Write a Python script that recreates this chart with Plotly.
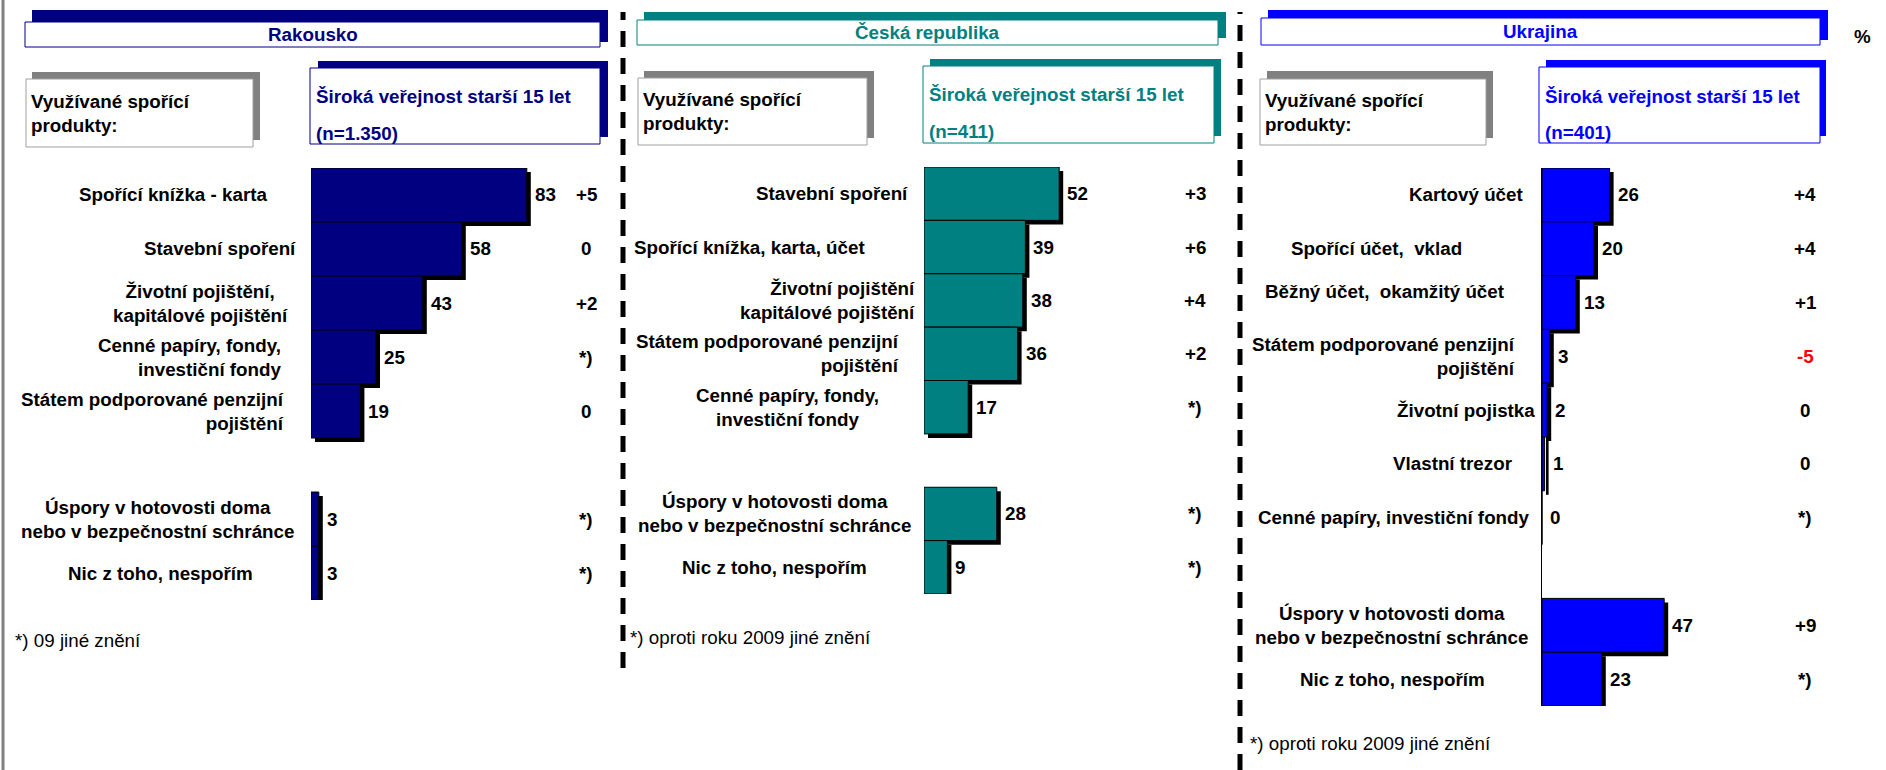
import plotly.graph_objects as go

W, H = 1886, 770

# ---------------- data ----------------
rak_labels = ["Spořící knížka - karta", "Stavební spoření",
              "Životní pojištění,<br>kapitálové pojištění",
              "Cenné papíry, fondy,<br>investiční fondy",
              "Státem podporované penzijní<br>pojištění", None,
              "Úspory v hotovosti doma<br>nebo v bezpečnostní schránce",
              "Nic z toho, nespořím"]
rak_values = [83, 58, 43, 25, 19, None, 3, 3]
rak_changes = ["+5", "0", "+2", "*)", "0", None, "*)", "*)"]

cz_labels = ["Stavební spoření", "Spořící knížka, karta, účet",
             "Životní pojištění<br>kapitálové pojištění",
             "Státem podporované penzijní<br>pojištění",
             "Cenné papíry, fondy,<br>investiční fondy", None,
             "Úspory v hotovosti doma<br>nebo v bezpečnostní schránce",
             "Nic z toho, nespořím"]
cz_values = [52, 39, 38, 36, 17, None, 28, 9]
cz_changes = ["+3", "+6", "+4", "+2", "*)", None, "*)", "*)"]

ua_labels = ["Kartový účet", "Spořící účet,  vklad", "Běžný účet,  okamžitý účet",
             "Státem podporované penzijní<br>pojištění", "Životní pojistka",
             "Vlastní trezor", "Cenné papíry, investiční fondy", None,
             "Úspory v hotovosti doma<br>nebo v bezpečnostní schránce",
             "Nic z toho, nespořím"]
ua_values = [26, 20, 13, 3, 2, 1, 0, None, 47, 23]
ua_changes = ["+4", "+4", "+1", "-5", "0", "0", "*)", None, "+9", "*)"]

panel_titles = ["Rakousko", "Česká republika", "Ukrajina"]
sample_sizes = ["(n=1.350)", "(n=411)", "(n=401)"]
footnotes = ["*) 09 jiné znění", "*) oproti roku 2009 jiné znění", "*) oproti roku 2009 jiné znění"]
group_title = "Široká veřejnost starší 15 let"
question_title = "Využívané spořící<br>produkty:"

# ---------------- styles / layout ----------------
FONT = "Arial, Liberation Sans, sans-serif"
FS = 18.8
PXU = 2.6          # pixels per percentage point
SHADOW = 4         # px shadow offset

def X(px):
    return px / W

def Y(py):
    return 1 - py / H

panels = [
    dict(title=panel_titles[0], color="#000080", labels=rak_labels, values=rak_values,
         changes=rak_changes, n=sample_sizes[0], foot=footnotes[0],
         axis_x=311, top=168, bottom=600, change_x=586, showline=False,
         gaps=[42, 13, 21, 27, 25, None, 15, 56],
         aligns=["right", "right", "center", "right", "right", None, "center", "right"],
         dys=[0] * 8,
         header=(25, 22, 600, 47), hshadow=(32, 10, 608, 42),
         qbox=(26, 79, 253, 147), qshadow=(32, 72, 260, 140),
         sbox=(310, 68, 600, 144), sshadow=(318, 61, 608, 137),
         foot_xy=(13, 640)),
    dict(title=panel_titles[1], color="#008080", labels=cz_labels, values=cz_values,
         changes=cz_changes, n=sample_sizes[1], foot=footnotes[1],
         axis_x=924, top=167, bottom=594, change_x=1195, showline=False,
         gaps=[14, 57, 7, 23, 43, None, 11, 55],
         aligns=["right", "right", "right", "right", "center", None, "center", "right"],
         dys=[0] * 8,
         header=(637, 20, 1218, 45), hshadow=(644, 12, 1226, 38),
         qbox=(638, 78, 867, 145), qshadow=(644, 71, 874, 138),
         sbox=(923, 66, 1214, 143), sshadow=(930, 59, 1221, 136),
         foot_xy=(628, 637)),
    dict(title=panel_titles[2], color="#0000FF", labels=ua_labels, values=ua_values,
         changes=ua_changes, n=sample_sizes[2], foot=footnotes[2],
         axis_x=1542, top=168, bottom=706, change_x=1805, showline=True,
         gaps=[16, 78, 35, 25, 5, 27, 10, None, 12, 55],
         aligns=["right", "right", "right", "right", "right", "right", "right", None, "center", "right"],
         dys=[0, 0, 11, 0, 0, 0, 0, 0, 0, 0],
         header=(1261, 18, 1820, 45), hshadow=(1268, 10, 1828, 40),
         qbox=(1260, 79, 1486, 145), qshadow=(1267, 71, 1493, 138),
         sbox=(1539, 67, 1820, 143), sshadow=(1546, 60, 1826, 136),
         foot_xy=(1248, 743)),
]

fig = go.Figure()
shapes = []
annotations = []

def rect(box, fill, line_color=None, line_width=0):
    x0, y0, x1, y1 = box
    return dict(type="rect", xref="paper", yref="paper",
                x0=X(x0), x1=X(x1), y0=Y(y1), y1=Y(y0),
                fillcolor=fill,
                line=dict(color=line_color or fill, width=line_width))

AXIS_WIDTH_PX = 260

for i, p in enumerate(panels):
    suffix = "" if i == 0 else str(i + 1)
    xa, ya = "x" + suffix, "y" + suffix
    n_slots = len(p["values"])
    slot_px = (p["bottom"] - p["top"]) / n_slots
    slots = [k for k, v in enumerate(p["values"]) if v is not None]
    vals = [p["values"][k] for k in slots]

    # shadow bars
    fig.add_trace(go.Bar(
        y=slots, x=vals, base=SHADOW / PXU, orientation="h",
        width=1, offset=-0.5 + SHADOW / slot_px,
        marker=dict(color="#000000", line=dict(width=0)),
        xaxis=xa, yaxis=ya, hoverinfo="skip"))
    # main bars
    fig.add_trace(go.Bar(
        y=slots, x=vals, orientation="h", width=1, offset=-0.5,
        marker=dict(color=p["color"], line=dict(color="#000000", width=1)),
        xaxis=xa, yaxis=ya, hoverinfo="skip"))

    dom_x = [X(p["axis_x"]), X(p["axis_x"] + AXIS_WIDTH_PX)]
    dom_y = [Y(p["bottom"]), Y(p["top"])]
    fig.update_layout(**{
        ("xaxis" + suffix): dict(domain=dom_x, range=[0, AXIS_WIDTH_PX / PXU],
                                 visible=False, fixedrange=True, anchor=ya),
        ("yaxis" + suffix): dict(domain=dom_y, range=[n_slots - 0.5, -0.5],
                                 showgrid=False, zeroline=False, showticklabels=False,
                                 ticks="", showline=p["showline"], linecolor="#000000",
                                 linewidth=1, anchor=xa, fixedrange=True),
    })

    # labels, values, changes
    for k in slots:
        v = p["values"][k]
        annotations.append(dict(
            x=v, y=k, xref=xa, yref=ya, text=str(v), showarrow=False,
            xanchor="left", yanchor="middle", xshift=SHADOW + 2,
            font=dict(family=FONT, size=FS, color="#000000", weight="bold")))
        annotations.append(dict(
            x=X(p["axis_x"] - p["gaps"][k]), y=k, xref="paper", yref=ya,
            text=p["labels"][k], showarrow=False, xanchor="right", yanchor="middle",
            align=p["aligns"][k], yshift=p["dys"][k],
            font=dict(family=FONT, size=FS, color="#000000", weight="bold")))
        ch = p["changes"][k]
        annotations.append(dict(
            x=X(p["change_x"]), y=k, xref="paper", yref=ya, text=ch,
            showarrow=False, xanchor="center", yanchor="middle",
            font=dict(family=FONT, size=FS, weight="bold",
                      color="#FF0000" if ch.startswith("-") else "#000000")))

    # header boxes
    shapes.append(rect(p["hshadow"], p["color"]))
    shapes.append(rect(p["header"], "#FFFFFF", p["color"], 1))
    hx0, hy0, hx1, hy1 = p["header"]
    annotations.append(dict(
        x=X((hx0 + hx1) / 2), y=Y((hy0 + hy1) / 2), xref="paper", yref="paper",
        text=p["title"], showarrow=False, xanchor="center", yanchor="middle",
        font=dict(family=FONT, size=FS, color=p["color"], weight="bold")))

    # question box
    shapes.append(rect(p["qshadow"], "#808080"))
    shapes.append(rect(p["qbox"], "#FFFFFF", "#A0A0A0", 1))
    qx0, qy0, qx1, qy1 = p["qbox"]
    annotations.append(dict(
        x=X(qx0 + 3), y=Y((qy0 + qy1) / 2), xref="paper", yref="paper",
        text=question_title, showarrow=False, xanchor="left", yanchor="middle",
        align="left",
        font=dict(family=FONT, size=FS, color="#000000", weight="bold")))

    # sample box
    shapes.append(rect(p["sshadow"], p["color"]))
    shapes.append(rect(p["sbox"], "#FFFFFF", p["color"], 1))
    sx0, sy0, sx1, sy1 = p["sbox"]
    annotations.append(dict(
        x=X(sx0 + 4), y=Y(sy0 + 29), xref="paper", yref="paper",
        text=group_title, showarrow=False, xanchor="left", yanchor="middle",
        font=dict(family=FONT, size=FS, color=p["color"], weight="bold")))
    annotations.append(dict(
        x=X(sx0 + 4), y=Y(sy0 + 65), xref="paper", yref="paper",
        text=p["n"], showarrow=False, xanchor="left", yanchor="middle",
        font=dict(family=FONT, size=FS, color=p["color"], weight="bold")))

    # footnote
    fx, fy = p["foot_xy"]
    annotations.append(dict(
        x=X(fx), y=Y(fy), xref="paper", yref="paper", text=p["foot"],
        showarrow=False, xanchor="left", yanchor="middle",
        font=dict(family=FONT, size=FS, color="#000000")))

# percent sign
annotations.append(dict(
    x=X(1862), y=Y(36), xref="paper", yref="paper", text="%", showarrow=False,
    xanchor="center", yanchor="middle",
    font=dict(family=FONT, size=FS, color="#000000", weight="bold")))

# page border and separators
shapes.append(dict(type="line", xref="paper", yref="paper", x0=X(3), x1=X(3),
                   y0=0, y1=1, line=dict(color="#808080", width=3)))
shapes.append(dict(type="line", xref="paper", yref="paper", x0=X(623), x1=X(623),
                   y0=Y(668), y1=Y(12), line=dict(color="#000000", width=5, dash="16px,11px")))
shapes.append(dict(type="line", xref="paper", yref="paper", x0=X(1240), x1=X(1240),
                   y0=Y(770), y1=Y(12), line=dict(color="#000000", width=5, dash="16px,11px")))

fig.update_layout(
    width=W, height=H, margin=dict(l=0, r=0, t=0, b=0),
    paper_bgcolor="#FFFFFF", plot_bgcolor="rgba(0,0,0,0)",
    barmode="overlay", showlegend=False,
    shapes=shapes, annotations=annotations,
    font=dict(family=FONT, size=FS),
)

fig.write_html("out.html",
               config={"displayModeBar": False},
               post_script="document.body.style.margin='0';document.body.style.overflow='hidden';")
